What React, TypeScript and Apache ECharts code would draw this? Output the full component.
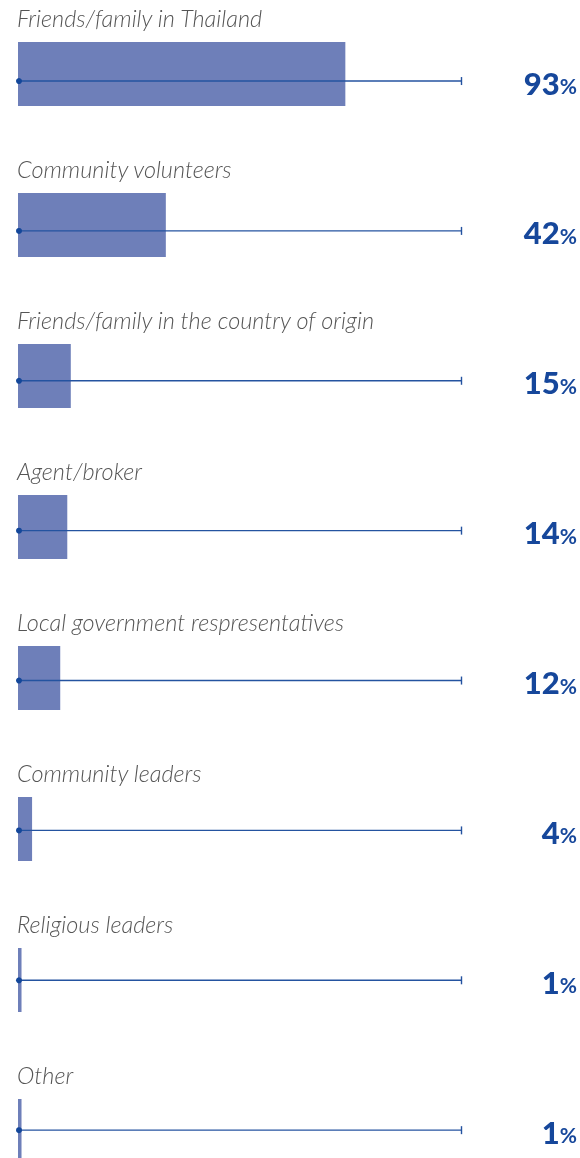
import React, { useEffect, useRef } from "react";
import * as echarts from "echarts";

const categories = [
  "Friends/family in Thailand",
  "Community volunteers",
  "Friends/family in the country of origin",
  "Agent/broker",
  "Local government respresentatives",
  "Community leaders",
  "Religious leaders",
  "Other",
];
const values = [93, 42, 15, 14, 12, 4, 1, 1];
const scaleMax = 126;

export default function App() {
  const ref = useRef<HTMLDivElement>(null);
  useEffect(() => {
    const chart = echarts.init(ref.current!, null, { renderer: "svg" });
    chart.setOption({
      animation: false,
      grid: [
        { left: 18, top: -1.5, width: 443.5, height: 1208, outerBoundsMode: "none" },
        { left: 18, top: 6.1, width: 443.5, height: 1199, outerBoundsMode: "none" },
      ],
      xAxis: [
        { type: "value", gridIndex: 0, min: 0, max: scaleMax, show: false },
        { type: "value", gridIndex: 1, min: 0, max: scaleMax, show: false },
      ],
      yAxis: [
        { type: "category", gridIndex: 0, data: categories, inverse: true, show: false },
        { type: "category", gridIndex: 1, data: categories, inverse: true, show: false },
      ],
      series: [
        {
          type: "bar",
          xAxisIndex: 0,
          yAxisIndex: 0,
          data: values,
          barWidth: 64,
          itemStyle: { color: "#6e7fb9" },
          silent: true,
          z: 2,
        },
        {
          type: "custom",
          xAxisIndex: 0,
          yAxisIndex: 0,
          z: 3,
          silent: true,
          data: categories.map((c, i) => [0, i]),
          encode: { x: 0, y: 1 },
          renderItem: (params: any, api: any) => {
            const idx = api.value(1);
            const start = api.coord([0, idx]);
            return {
              type: "text",
              x: 17,
              y: start[1] - 56,
              style: {
                text: categories[idx],
                fill: "#555555",
                font: "italic 300 23.5px Lato",
                align: "left",
                verticalAlign: "middle",
              },
            };
          },
        },
        {
          type: "custom",
          xAxisIndex: 1,
          yAxisIndex: 1,
          z: 4,
          silent: true,
          data: categories.map((c, i) => [scaleMax, i, values[i]]),
          encode: { x: 0, y: 1 },
          renderItem: (params: any, api: any) => {
            const idx = api.value(1);
            const v = api.value(2);
            const start = api.coord([0, idx]);
            const end = api.coord([scaleMax, idx]);
            const y = start[1];
            return {
              type: "group",
              children: [
                {
                  type: "line",
                  shape: { x1: start[0], y1: y, x2: end[0], y2: y },
                  style: { stroke: "#2453a0", lineWidth: 1.4 },
                },
                {
                  type: "line",
                  shape: { x1: end[0], y1: y - 4, x2: end[0], y2: y + 4 },
                  style: { stroke: "#2453a0", lineWidth: 1.4 },
                },
                {
                  type: "circle",
                  shape: { cx: start[0] + 1, cy: y, r: 3 },
                  style: { fill: "#13479a" },
                },
                {
                  type: "text",
                  x: 577,
                  y: y + 1,
                  style: {
                    text: "{n|" + v + "}{p|%}",
                    align: "right",
                    verticalAlign: "middle",
                    rich: {
                      n: {
                        fontFamily: "Lato",
                        fontWeight: 900,
                        fontSize: 31,
                        fill: "#16479b",
                        lineHeight: 32,
                        verticalAlign: "bottom",
                      },
                      p: {
                        fontFamily: "Lato",
                        fontWeight: 700,
                        fontSize: 21,
                        fill: "#16479b",
                        lineHeight: 32,
                        verticalAlign: "bottom",
                        padding: [0, 0, 2, 0],
                      },
                    },
                  },
                },
              ],
            };
          },
        },
      ],
    });
    return () => chart.dispose();
  }, []);
  return (
    <div
      ref={ref}
      style={{ position: "fixed", left: 0, top: 0, width: 580, height: 1158 }}
    />
  );
}
